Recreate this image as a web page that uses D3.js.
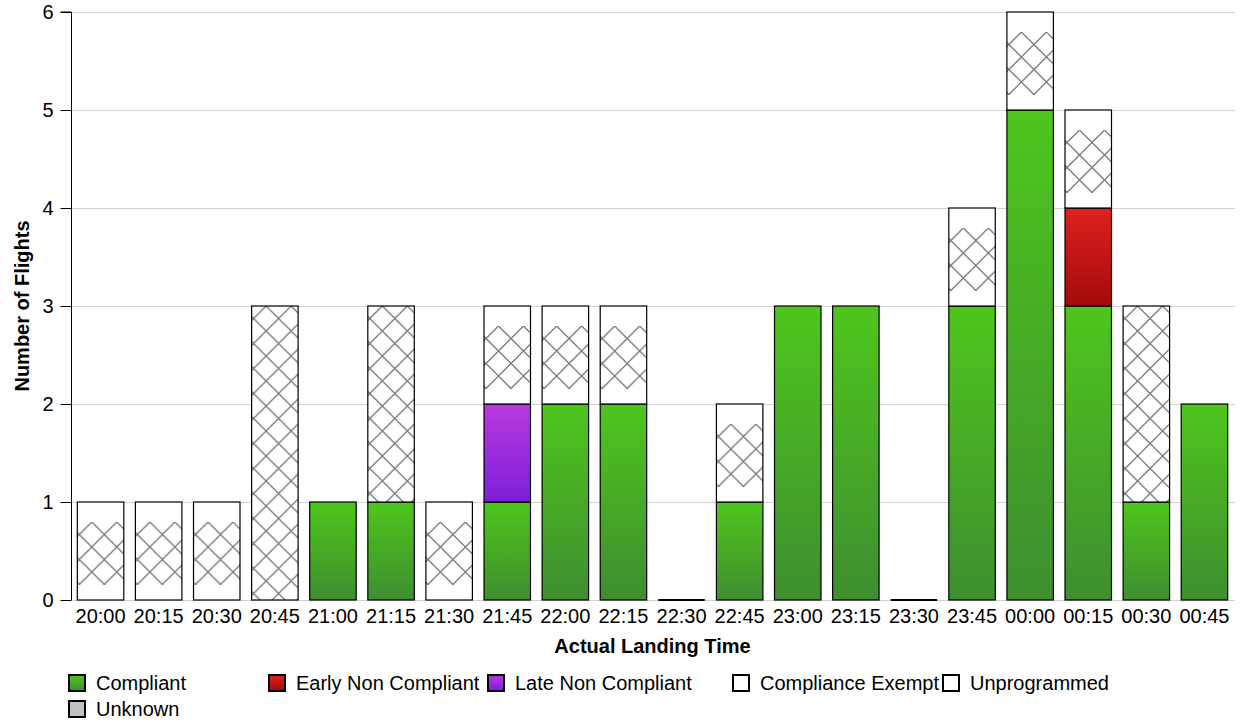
<!DOCTYPE html>
<html>
<head>
<meta charset="utf-8">
<script src="https://cdn.jsdelivr.net/npm/d3@7"></script>
<style>
  html, body { margin: 0; padding: 0; background: #fff; }
  svg { display: block; font-family: "Liberation Sans", Arial, sans-serif; }
</style>
</head>
<body>
<svg id="chart" width="1245" height="721"></svg>
<script>
// ---------------- data ----------------
const categories = ["20:00","20:15","20:30","20:45","21:00","21:15","21:30","21:45","22:00","22:15",
                    "22:30","22:45","23:00","23:15","23:30","23:45","00:00","00:15","00:30","00:45"];
const compliant     = [0,0,0,0,1,1,0,1,2,2,0,1,3,3,0,3,5,3,1,2];
const earlyNonComp  = [0,0,0,0,0,0,0,0,0,0,0,0,0,0,0,0,0,1,0,0];
const lateNonComp   = [0,0,0,0,0,0,0,1,0,0,0,0,0,0,0,0,0,0,0,0];
const exempt        = [1,1,1,3,0,2,1,1,1,1,0,1,0,0,0,1,1,1,2,0];
const unprogrammed  = [0,0,0,0,0,0,0,0,0,0,0,0,0,0,0,0,0,0,0,0];
const unknown       = [0,0,0,0,0,0,0,0,0,0,0,0,0,0,0,0,0,0,0,0];
const seriesNames   = ["Compliant","Early Non Compliant","Late Non Compliant","Compliance Exempt","Unprogrammed","Unknown"];
const yTicks        = [0,1,2,3,4,5,6];
const xTitle = "Actual Landing Time";
const yTitle = "Number of Flights";

(function () {
// ---------------- layout ----------------
const svg = d3.select("#chart");
const mLeft = 71.5, mRight = 1233.5, mTop = 12, mBottom = 600;
const FONT = 20;

const table = categories.map((c, i) => ({
  cat: c,
  "Compliant": compliant[i],
  "Early Non Compliant": earlyNonComp[i],
  "Late Non Compliant": lateNonComp[i],
  "Compliance Exempt": exempt[i],
  "Unprogrammed": unprogrammed[i],
  "Unknown": unknown[i]
}));

const x = d3.scaleBand().domain(categories).range([mLeft, mRight]).paddingInner(0.2).paddingOuter(0.1);
const y = d3.scaleLinear().domain([0, 6]).range([mBottom, mTop]);

// ---------------- defs ----------------
const defs = svg.append("defs");
function grad(id, c1, c2) {
  const g = defs.append("linearGradient").attr("id", id).attr("x1", 0).attr("y1", 0).attr("x2", 0).attr("y2", 1);
  g.append("stop").attr("offset", "0%").attr("stop-color", c1);
  g.append("stop").attr("offset", "100%").attr("stop-color", c2);
}
grad("gGreen", "#4ec61d", "#3e8e2f");
grad("gRed", "#df2020", "#a40a0a");
grad("gPurple", "#b93ade", "#7d1fd9");

const T = 25;
const pat = defs.append("pattern").attr("id", "hatch").attr("patternUnits", "userSpaceOnUse")
  .attr("width", T).attr("height", T).attr("x", 2).attr("y", 0);
pat.append("path")
  .attr("d", `M0,${T/2} L${T/2},0 L${T},${T/2} L${T/2},${T} Z`)
  .attr("fill", "none").attr("stroke", "#7a7a7a").attr("stroke-width", 1.3);

const fills = {
  "Compliant": "url(#gGreen)",
  "Early Non Compliant": "url(#gRed)",
  "Late Non Compliant": "url(#gPurple)",
  "Compliance Exempt": "#ffffff",
  "Unprogrammed": "#ffffff",
  "Unknown": "#c0c0c0"
};

// ---------------- grid ----------------
svg.append("g").selectAll("line").data(yTicks).join("line")
  .attr("x1", mLeft).attr("x2", 1235)
  .attr("y1", d => Math.round(y(d)) + 0.5).attr("y2", d => Math.round(y(d)) + 0.5)
  .attr("stroke", "#d2d2d2").attr("stroke-width", 1);

// ---------------- bars ----------------
const stack = d3.stack().keys(seriesNames)(table);
const barsG = svg.append("g");
stack.forEach(layer => {
  const key = layer.key;
  layer.forEach((d, i) => {
    if (d[1] <= d[0]) return;
    const x0 = x(categories[i]);
    const y0 = y(d[1]), y1 = y(d[0]);
    const g = barsG.append("g").attr("transform", `translate(${x0},${y0})`);
    g.append("rect").attr("x", 0).attr("y", 0).attr("width", x.bandwidth()).attr("height", y1 - y0)
      .attr("fill", fills[key]);
    if (key === "Compliance Exempt") {
      const unit = (d[1] - d[0]) === 1;
      const insTop = unit ? 20 : 0, insBot = unit ? 15 : 0;
      const hg = g.append("g").attr("transform", `translate(0,${insTop})`);
      hg.append("rect").attr("x", 0).attr("y", 0).attr("width", x.bandwidth())
        .attr("height", (y1 - y0) - insTop - insBot).attr("fill", "url(#hatch)");
    }
    g.append("rect").attr("x", 0).attr("y", 0).attr("width", x.bandwidth()).attr("height", y1 - y0)
      .attr("fill", "none").attr("stroke", "#000").attr("stroke-width", 1.2);
  });
});
// zero-total markers
table.forEach((row) => {
  const total = seriesNames.reduce((s, k) => s + row[k], 0);
  if (total === 0) {
    barsG.append("line").attr("x1", x(row.cat)).attr("x2", x(row.cat) + x.bandwidth())
      .attr("y1", y(0)).attr("y2", y(0)).attr("stroke", "#000").attr("stroke-width", 2);
  }
});

// ---------------- axes ----------------
const yAxis = d3.axisLeft(y).tickValues(yTicks).tickFormat(d3.format("d")).tickSize(11).tickPadding(7);
const ya = svg.append("g").attr("transform", `translate(${mLeft},0)`).call(yAxis);
ya.select(".domain").attr("stroke", "#000").attr("d", `M-11,${y(6)}H0V${y(0)}`);
ya.selectAll(".tick line").attr("stroke", "#000");
ya.selectAll(".tick text").attr("font-size", FONT).attr("fill", "#000").attr("font-family", "Liberation Sans, Arial, sans-serif");

const xAxis = d3.axisBottom(x).tickSize(0).tickPadding(9);
const xa = svg.append("g").attr("transform", `translate(0,${mBottom})`).call(xAxis);
xa.select(".domain").remove();
xa.selectAll(".tick text").attr("font-size", FONT).attr("fill", "#000").attr("font-family", "Liberation Sans, Arial, sans-serif");

// titles
svg.append("text").attr("x", (mLeft + mRight) / 2).attr("y", 653).attr("text-anchor", "middle")
  .attr("font-size", FONT).attr("font-weight", "bold").text(xTitle);
svg.append("text").attr("transform", `translate(29,${(mTop + mBottom) / 2}) rotate(-90)`)
  .attr("text-anchor", "middle").attr("font-size", FONT).attr("font-weight", "bold").text(yTitle);

// ---------------- legend ----------------
const legendX = [68, 268, 487, 732, 942, 68];
const legendY = [674, 674, 674, 674, 674, 700];
const lg = svg.append("g");
seriesNames.forEach((name, i) => {
  const g = lg.append("g").attr("transform", `translate(${legendX[i]},${legendY[i]})`);
  g.append("rect").attr("x", 1).attr("y", 1).attr("width", 16).attr("height", 16)
    .attr("fill", fills[name]).attr("stroke", "#000").attr("stroke-width", 2);
  g.append("text").attr("x", 28).attr("y", 8.5).attr("dy", "0.35em").attr("font-size", FONT).text(name);
});
})();
</script>
</body>
</html>
